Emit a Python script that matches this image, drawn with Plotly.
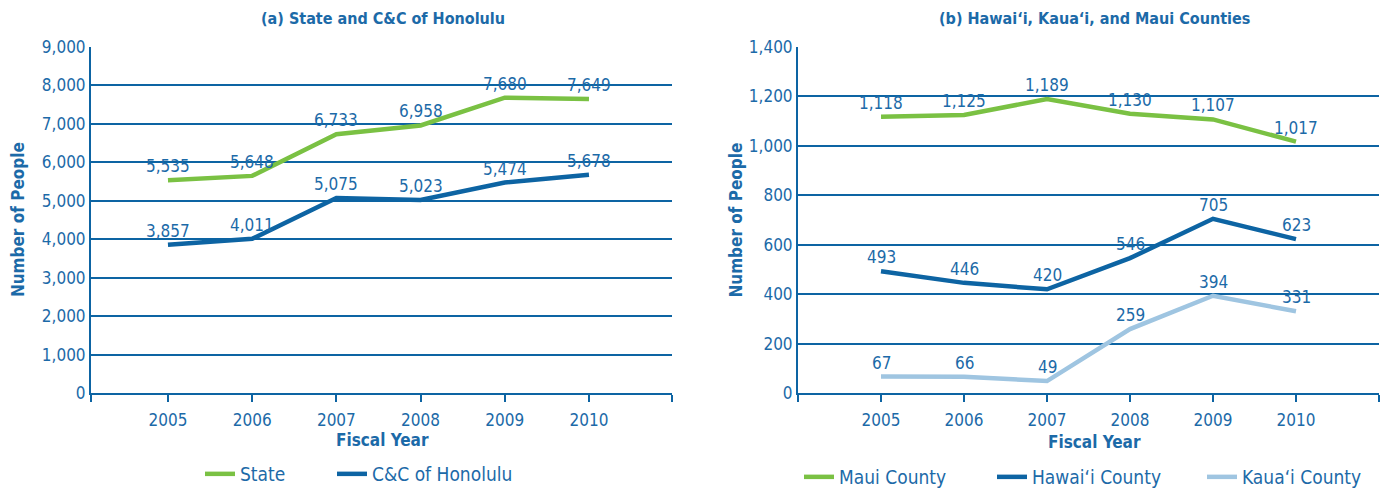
import plotly.graph_objects as go

YEARS = [2005, 2006, 2007, 2008, 2009, 2010]

STATE = [5535, 5648, 6733, 6958, 7680, 7649]
HONOLULU = [3857, 4011, 5075, 5023, 5474, 5678]

MAUI = [1118, 1125, 1189, 1130, 1107, 1017]
HAWAII = [493, 446, 420, 546, 705, 623]
KAUAI = [67, 66, 49, 259, 394, 331]

LEFT_TICKS = [0, 1000, 2000, 3000, 4000, 5000, 6000, 7000, 8000, 9000]
RIGHT_TICKS = [0, 200, 400, 600, 800, 1000, 1200, 1400]

GREEN = "#7ac143"
DARK = "#0d64a3"
LIGHT = "#9fc5e1"
TXT = "#1c6aa8"
FONT = "DejaVu Sans Condensed, sans-serif"
W, H = 1387, 489

fig = go.Figure()
labels = []
legends = {}

def add_line(y, name, color, xa, ya, leg, leg_px, leg_py):
    fig.add_trace(go.Scatter(
        x=YEARS, y=y, name=name, mode="lines",
        line=dict(color=color, width=4.5),
        xaxis=xa, yaxis=ya, legend=leg,
    ))
    # one legend per entry so the spacing can follow the original
    legends[leg] = dict(orientation="h", x=leg_px / W, xanchor="left",
                        y=1 - leg_py / H, yanchor="middle",
                        font=dict(color=TXT, size=19, family=FONT))
    # value labels sit a little above each point
    for yr, v in zip(YEARS, y):
        labels.append(dict(x=yr, y=v, xref=xa, yref=ya, text=f"{v:,}",
                           showarrow=False, yanchor="bottom", yshift=2,
                           font=dict(color=TXT, size=17, family=FONT)))

add_line(STATE, "State", GREEN, "x", "y", "legend", 200, 474)
add_line(HONOLULU, "C&C of Honolulu", DARK, "x", "y", "legend2", 332, 474)
add_line(MAUI, "Maui County", GREEN, "x2", "y2", "legend3", 799, 477)
add_line(HAWAII, "Hawai\u2018i County", DARK, "x2", "y2", "legend4", 992, 477)
add_line(KAUAI, "Kaua\u2018i County", LIGHT, "x2", "y2", "legend5", 1202, 477)

def xaxis(lo, hi, dom):
    return dict(
        domain=dom, range=[lo, hi], tickvals=[lo] + YEARS + [hi],
        ticktext=[""] + [str(y) for y in YEARS] + [""],
        ticks="outside", ticklen=7, tickcolor=DARK, tickwidth=1.5,
        showline=True, linecolor=DARK, linewidth=2, showgrid=False,
        zeroline=False, tickfont=dict(color=TXT, size=17, family=FONT),
        ticklabelstandoff=3,
    )

ycommon = dict(
    showline=True, linecolor=DARK, linewidth=2, showgrid=True,
    gridcolor=DARK, gridwidth=1.5, zeroline=False, ticks="",
    tickfont=dict(color=TXT, size=17, family=FONT), tickformat=",",
)

def note(text, x, y, size, angle=0):
    return dict(text=f"<b>{text}</b>", x=x, y=y, xref="paper", yref="paper",
                textangle=angle, showarrow=False, xanchor="center", yanchor="middle",
                font=dict(color=TXT, size=size, family=FONT))

fig.update_layout(
    width=W, height=H,
    margin=dict(l=0, r=0, t=0, b=0, autoexpand=False),
    paper_bgcolor="white", plot_bgcolor="white",
    xaxis=dict(anchor="y", **xaxis(2004.086, 2010.986, [91 / W, 672 / W])),
    xaxis2=dict(anchor="y2", **xaxis(2004.0, 2011.0, [798 / W, 1379 / W])),
    yaxis=dict(domain=[0.196, 0.904], anchor="x", range=[0, 9000],
               tickvals=LEFT_TICKS, **ycommon),
    yaxis2=dict(domain=[0.196, 0.904], anchor="x2", range=[0, 1400],
                tickvals=RIGHT_TICKS, **ycommon),
    annotations=labels + [
        note("(a) State and C&C of Honolulu", 0.276, 0.963, 16),
        note("(b) Hawai\u2018i, Kaua\u2018i, and Maui Counties", 0.789, 0.963, 16),
        note("Number of People", 0.013, 0.55, 17, -90),
        note("Number of People", 0.531, 0.55, 17, -90),
        note("Fiscal Year", 0.276, 1 - 440 / H, 17),
        note("Fiscal Year", 0.789, 1 - 442 / H, 17),
    ],
    showlegend=True,
    **legends,
)

fig.write_html("out.html", config={"displayModeBar": False},
               post_script="document.body.style.margin='0';")
